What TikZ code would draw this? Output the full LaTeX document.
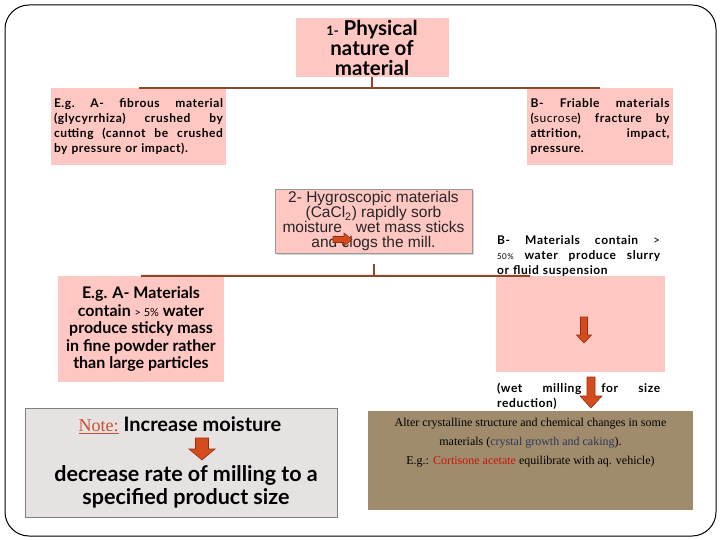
\documentclass[tikz,border=0pt]{standalone}
\usepackage{fontspec}
\setmainfont{Liberation Serif}
\newfontfamily\twfont{Lato}
\newfontfamily\twspaced{Lato}[LetterSpace=5]
\newfontfamily\arialfont{Liberation Sans}
\usetikzlibrary{positioning,shadows}

\definecolor{boxpink}{RGB}{255,199,194}
\definecolor{branch}{RGB}{140,72,42}
\definecolor{arrowfill}{RGB}{212,76,30}
\definecolor{arrowline}{RGB}{150,45,15}
\definecolor{notegray}{RGB}{230,226,226}
\definecolor{notered}{RGB}{200,80,50}
\definecolor{khaki}{RGB}{160,140,108}
\definecolor{slate}{RGB}{45,55,90}
\definecolor{cortisone}{RGB}{200,20,10}

% one justified line of a given width
\newcommand{\jl}[2]{\leavevmode\hbox to #1{\spaceskip=0.25em plus 1fil\xspaceskip=\spaceskip #2}}
% block arrow pointing down: x, top, bottom, shaft, head width, head length
\newcommand{\blockdown}[6]{%
  \filldraw[blockarrow] ({#1-#4/2},#2) -- ({#1+#4/2},#2) -- ({#1+#4/2},{#3-#6})
    -- ({#1+#5/2},{#3-#6}) -- (#1,#3) -- ({#1-#5/2},{#3-#6}) -- ({#1-#4/2},{#3-#6}) -- cycle;}

\tikzset{
  pinkbox/.style={fill=boxpink, inner sep=0pt},
  twtext/.style={font=\twspaced\bfseries\fontsize{12}{15}\selectfont},
  conn/.style={draw=branch, line width=2pt},
  blockarrow/.style={fill=arrowfill, draw=arrowline, line width=0.6pt}
}

\begin{document}
\begin{tikzpicture}[x=1pt, y=-1pt]
  \useasboundingbox (0,0) rectangle (720,540);
  \draw[line width=1pt, rounded corners=24pt] (5,5) rectangle (716,536);

  % first level
  \node[pinkbox, minimum width=153pt, minimum height=59pt, align=center,
    font=\twfont\bfseries\fontsize{20.5}{20}\selectfont] (phys) at (372,47.5)
    {{\fontsize{13}{14}\selectfont 1-} Physical\\nature of\\material};
  \node[pinkbox, twtext, minimum width=175pt, minimum height=77pt, text width=169pt,
    align=left] (fibrous) at (138.5,126.5)
    {\jl{169pt}{E.g. A- fibrous material}\\ \jl{169pt}{(glycyrrhiza) crushed by}\\
     \jl{169pt}{cutting (cannot be crushed}\\ by pressure or impact).};
  \node[pinkbox, twtext, minimum width=146pt, minimum height=77pt, text width=139pt,
    align=left] (friable) at (600,126.5)
    {\jl{139pt}{B- Friable materials}\\ \jl{139pt}{({\mdseries sucrose}) fracture by}\\
     \jl{139pt}{attrition, impact,}\\ pressure.};
  \draw[conn] (phys.south) -- (phys.south |- fibrous.north);
  \draw[conn] (fibrous.north) -- (friable.north);

  % second level
  \node[pinkbox, draw=gray!80, drop shadow={opacity=0.35, shadow xshift=2pt, shadow yshift=-2pt},
    minimum width=197pt, minimum height=64pt, align=center, text=black!85,
    font=\arialfont\fontsize{15.5}{14.7}\selectfont] (hygro) at (373.5,221)
    {2- Hygroscopic materials\\(CaCl\textsubscript{2}) rapidly sorb\\
     moisture\hspace{14pt}wet mass sticks\\and clogs the mill.};
  \filldraw[blockarrow] (333,236.5) -- (344,236.5) -- (344,233) -- (352,239.5)
    -- (344,246) -- (344,242.5) -- (333,242.5) -- cycle;
  \node[pinkbox, minimum width=166pt, minimum height=106pt, align=center,
    font=\twfont\bfseries\fontsize{16}{17.5}\selectfont] (moist) at (141,329)
    {E.g. A- Materials\\contain {\mdseries\fontsize{11}{12}\selectfont > 5\%} water\\
     produce sticky mass\\in fine powder rather\\than large particles};
  \node[twtext, text width=163pt, align=left, anchor=north west, inner sep=0pt]
    (slurry) at (497,235)
    {\jl{163pt}{B- Materials contain {\mdseries >}}\\
     \jl{163pt}{{\mdseries\fontsize{8}{10}\selectfont 50\%} water produce slurry}\\
     or fluid suspension};
  \node[pinkbox, minimum width=169pt, minimum height=96pt] (slurrybox) at (580.5,324) {};
  \blockdown{584}{317}{343}{7}{15}{8}
  \coordinate (slurryend) at (530,276);
  \draw[conn] ([yshift=-11pt]hygro.south) -- (hygro.south |- moist.north);
  \draw[conn] (moist.north) -- (slurryend);

  % wet milling
  \node[twtext, text width=163pt, align=left, anchor=north west, inner sep=0pt]
    (wet) at (497,383) {\jl{163pt}{(wet milling for size}\\ reduction)};
  \node[fill=khaki, minimum width=325pt, minimum height=99pt, inner sep=0pt]
    (alter) at (530.5,460.5) {};
  \node[below=4pt of alter.north, align=center, font=\fontsize{12}{19}\selectfont]
    (altertext)
    {Alter crystalline structure and chemical changes in some\\
     materials ({\color{slate}crystal growth and caking}).\\
     E.g.: {\color{cortisone}Cortisone acetate} equilibrate with aq. vehicle)};
  \blockdown{591}{377}{408}{8}{22}{12}

  % note
  \node[fill=notegray, draw=gray, minimum width=312pt, minimum height=109pt]
    (note) at (181,462.5) {};
  \node[font=\twfont\bfseries\fontsize{20}{22}\selectfont] (notetop) at (180,425)
    {{\mdseries\rmfamily\fontsize{18}{20}\selectfont\color{notered}\underline{Note:}} Increase moisture};
  \blockdown{202}{438}{460}{13}{26}{11}
  \node[align=center, font=\twfont\bfseries\fontsize{21.5}{23}\selectfont]
    (notebottom) at (186,487) {decrease rate of milling to a\\specified product size};
\end{tikzpicture}
\end{document}
